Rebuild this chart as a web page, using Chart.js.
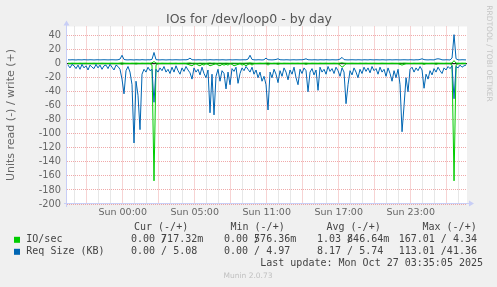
<!DOCTYPE html>
<html><head><meta charset="utf-8">
<script src="https://cdn.jsdelivr.net/npm/chart.js@4/dist/chart.umd.min.js"></script>
<style>html,body{margin:0;padding:0;background:#f0f0f0;overflow:hidden}#wrap{position:relative;width:497px;height:287px}canvas{display:block}</style>
</head><body><div id="wrap"><canvas id="c" width="497" height="287"></canvas></div>
<script>
const TITLE = 'IOs for /dev/loop0 - by day';
const Y_TITLE = 'Units read (-) / write (+)';
const SIDE_TEXT = 'RRDTOOL / TOBI OETIKER';
const FOOTER = 'Munin 2.0.73';
const LAST_UPDATE = 'Last update: Mon Oct 27 03:35:05 2025';
// time axis in hours relative to "Sun 00:00"
const X_START = -4.64, X_END = 28.69, SAMPLE_HOURS = 1/6;
const X_LABEL_HOURS = [0, 6, 12, 18, 24];
const X_LABELS = ['Sun 00:00', 'Sun 05:00', 'Sun 11:00', 'Sun 17:00', 'Sun 23:00'];
const Y_MIN = -200, Y_MAX = 53;

const SERIES_NAMES = ['IO/sec', 'Req Size (KB)'];
const SERIES_COLORS = ['#00cc00', '#0066b3'];
const LEGEND_HEADERS = ['Cur (-/+)', 'Min (-/+)', 'Avg (-/+)', 'Max (-/+)'];
const IO_STATS = [['0.00 /', '717.32m'], ['0.00 /', '576.36m'], ['1.03 /', '846.64m'], ['167.01 / 4.34', '']];
const REQ_STATS = [['0.00 / 5.08', ''], ['0.00 / 4.97', ''], ['8.17 / 5.74', ''], ['113.01 /41.36', '']];

const REQ_READ = [
-2,-6,-1,-3,-7,-2,-8,-1,-6,-3,-9,-2,-5,-7,-1,-6,-2,-8,-3,-2,
-7,-1,-5,-9,-2,-4,-8,-22,-43,-10,-4,-12,-30,-113,-25,-45,-94,-15,-8,-12,
-5,-10,-8,-55,-8,-12,-6,-10,-4,-12,-8,-14,-5,-12,-3,-10,-15,-6,-11,-4,
-9,-13,-22,-6,-12,-8,-16,-5,-14,-20,-9,-70,-15,-73,-18,-8,-25,-10,-14,-36,
-12,-30,-7,-11,-5,-28,-14,-6,-10,-4,-8,-12,-5,-15,-9,-20,-12,-25,-18,-30,
-66,-12,-20,-8,-15,-27,-10,-18,-6,-12,-23,-9,-15,-5,-20,-30,-8,-14,-6,-10,
-40,-12,-7,-16,-9,-38,-5,-12,-8,-15,-4,-11,-7,-14,-5,-10,-18,-6,-12,-57,
-30,-10,-16,-6,-12,-20,-8,-14,-5,-11,-6,-13,-4,-10,-7,-15,-5,-12,-8,-18,
-6,-14,-25,-10,-20,-8,-30,-97,-60,-20,-40,-8,-5,-12,-6,-10,-4,-9,-35,-15,
-22,-10,-16,-7,-12,-5,-10,-14,-6,-9,-4,-7,-3,-50,-4,-6,-2,-5,-3,-2];
const REQ_WRITE = [
5.5,5.4,5.6,5.5,5.3,5.6,5.5,5.4,5.7,5.5,5.4,5.6,5.5,5.3,5.5,5.6,5.4,5.5,5.6,5.5,
5.4,5.5,5.6,5.5,5.4,5.6,6.5,12.0,6.0,5.5,5.4,5.6,5.5,5.3,5.6,5.5,5.4,5.7,5.5,5.4,
5.6,5.5,6.2,16.0,5.8,5.5,5.4,5.6,5.5,5.3,5.5,5.6,5.4,5.5,5.6,5.5,5.4,5.5,5.6,5.5,
6.0,8.0,5.6,5.5,5.4,5.6,5.5,5.3,5.6,5.5,5.4,5.7,5.5,5.4,5.6,5.5,5.4,5.6,5.5,5.3,
5.5,5.6,5.4,5.5,5.6,5.5,5.4,5.5,5.6,5.5,6.5,12.0,6.0,5.5,5.4,5.6,5.5,5.3,5.6,8.0,
5.6,5.5,5.4,5.6,6.0,7.0,5.6,5.5,5.4,5.6,5.5,5.3,5.5,5.6,5.4,5.5,5.6,5.5,6.0,7.0,
5.6,5.5,5.4,5.6,5.5,5.3,5.6,5.5,5.4,5.7,5.5,5.4,5.6,5.5,5.4,5.6,6.5,9.0,5.8,5.5,
5.4,5.5,5.6,5.5,5.4,5.6,5.5,5.3,5.6,5.5,5.4,5.7,5.5,5.4,5.6,5.5,5.4,5.6,5.5,5.3,
5.5,5.6,5.4,5.5,5.6,5.5,5.4,5.5,5.6,5.5,5.4,5.6,5.5,5.3,5.6,5.5,6.0,7.0,5.8,5.5,
5.4,5.6,5.5,5.4,6.5,7.0,6.5,5.5,5.4,5.6,5.5,5.3,8.0,41.36,7.0,5.5,5.4,5.6,5.5,5.4];
const IO_READ = [
0,0,0,0,0,0,0,0,0,0,0,0,0,0,0,0,0,0,0,0,
0,0,0,0,0,0,0,-1,0,0,0,0,0,0,-0.5,0,0,0,0,0,
0,0,-2,-167,-2,0,0,0,0,0,0,0,0,0,0,0,0,0,0,0,
-1,-2,-3,-1,0,-2,-3,-1,-2,0,-1,-3,-2,-1,0,-2,-3,-1,-2,-1,
-2,0,-1,-3,-2,-1,0,-2,-1,-3,-1,0,-2,0,0,0,0,0,0,0,
-2,0,0,0,0,-1,0,0,0,0,0,0,0,0,0,0,0,0,0,-1,
0,0,0,0,0,0,0,0,0,0,0,0,0,0,0,0,-2,-5,-3,0,
0,0,0,0,0,0,0,0,0,0,0,0,0,0,0,0,0,0,0,0,
0,0,0,0,0,0,-1,-2,-1,0,0,0,0,0,0,0,0,0,-1,0,
0,0,0,0,-1,0,0,0,0,0,0,0,-2,-167,-2,0,0,0,0,0];
const IO_WRITE = [
0.7,0.6,0.8,0.7,0.7,0.6,0.8,0.7,0.7,0.8,0.6,0.7,0.7,0.8,0.7,0.6,0.7,0.8,0.7,0.7,
0.6,0.7,0.8,0.7,0.7,0.6,0.9,1.2,0.8,0.7,0.7,0.6,0.8,0.7,0.9,0.7,0.6,0.8,0.7,0.7,
0.8,0.7,1.2,3.0,0.9,0.7,0.6,0.8,0.7,0.7,0.6,0.8,0.7,0.7,0.8,0.6,0.7,0.7,0.8,0.7,
0.9,1.1,0.7,0.8,0.7,0.6,0.8,0.7,0.7,0.6,0.8,1.0,0.7,0.9,0.7,0.6,0.8,0.7,0.7,0.8,
0.7,0.6,0.8,0.7,0.7,0.6,0.8,0.7,0.7,0.8,0.9,1.2,0.8,0.7,0.6,0.7,0.8,0.7,0.7,0.9,
1.0,0.7,0.6,0.8,0.7,0.9,0.7,0.6,0.8,0.7,0.7,0.6,0.8,0.7,0.7,0.8,0.6,0.7,0.8,0.9,
0.7,0.6,0.8,0.7,0.7,0.6,0.8,0.7,0.7,0.8,0.6,0.7,0.7,0.8,0.7,0.6,0.9,1.3,0.8,0.7,
0.6,0.7,0.8,0.7,0.7,0.6,0.8,0.7,0.7,0.8,0.6,0.7,0.7,0.8,0.7,0.6,0.7,0.8,0.7,0.7,
0.6,0.7,0.8,0.7,0.7,0.6,0.8,0.7,0.9,0.8,0.7,0.7,0.6,0.8,0.7,0.7,0.8,0.9,0.7,0.7,
0.6,0.7,0.8,0.7,0.9,0.8,0.7,0.7,0.6,0.8,0.7,0.7,1.0,4.34,0.9,0.7,0.6,0.8,0.7,0.72];

// sample times (10-minute samples, centred in each slot)
const TIMES = REQ_READ.map((_, i) => X_START + (i + 0.5) * SAMPLE_HOURS);
const pts = arr => arr.map((v, i) => ({x: TIMES[i], y: v}));

const MAJOR = 'rgba(235,140,140,0.75)';
const MINOR = 'rgba(200,200,200,0.85)';
const AXIS = '#c8cef6';
const SANS = 'DejaVu Sans';
const MONO = 'DejaVu Sans Mono';

const deco = {
  id: 'deco',
  beforeDraw(chart) {
    const {ctx, chartArea: a} = chart;
    ctx.save();
    ctx.fillStyle = '#f0f0f0';
    ctx.fillRect(0, 0, chart.width, chart.height);
    ctx.fillStyle = '#ffffff';
    ctx.fillRect(a.left, a.top, a.right - a.left, a.bottom - a.top);
    ctx.restore();
  },
  afterDraw(chart) {
    const {ctx, chartArea: a} = chart;
    ctx.save();
    // axes
    ctx.strokeStyle = AXIS; ctx.fillStyle = AXIS; ctx.lineWidth = 1;
    ctx.beginPath();
    ctx.moveTo(a.left - 0.5, a.bottom + 3); ctx.lineTo(a.left - 0.5, a.top - 2);
    ctx.moveTo(a.left - 3, a.bottom - 0.5); ctx.lineTo(a.right + 4, a.bottom - 0.5);
    ctx.stroke();
    ctx.beginPath();
    ctx.moveTo(a.left - 3.5, a.top - 1); ctx.lineTo(a.left + 2.5, a.top - 1); ctx.lineTo(a.left - 0.5, a.top - 6); ctx.closePath(); ctx.fill();
    ctx.beginPath();
    ctx.moveTo(a.right + 2, a.bottom - 3.5); ctx.lineTo(a.right + 2, a.bottom + 2.5); ctx.lineTo(a.right + 7, a.bottom - 0.5); ctx.closePath(); ctx.fill();

    // title
    ctx.fillStyle = '#555';
    ctx.font = '12.5px "' + SANS + '"';
    ctx.textAlign = 'center'; ctx.textBaseline = 'middle';
    ctx.fillText(TITLE, 249, 19.5);

    // y title
    ctx.save();
    ctx.translate(11, 115); ctx.rotate(-Math.PI / 2);
    ctx.font = '11px "' + SANS + '"';
    ctx.fillStyle = '#666';
    ctx.fillText(Y_TITLE, 0, 0);
    ctx.restore();

    // side text
    ctx.save();
    ctx.translate(489, 53.5); ctx.rotate(Math.PI / 2);
    ctx.font = '7.5px "' + SANS + '"';
    ctx.fillStyle = '#c4c4c4';
    ctx.fillText(SIDE_TEXT, 0, 0);
    ctx.restore();

    // legend
    ctx.textAlign = 'left';
    ctx.font = '10px "' + MONO + '"';
    ctx.fillStyle = '#444';
    const hx = [134, 230.5, 326.5, 422.5];
    LEGEND_HEADERS.forEach((h, k) => ctx.fillText(h, hx[k], 227.5));
    const vx = [131, 224, 317, 398.7];
    const cw = ctx.measureText('0').width;
    [[IO_STATS, 239.8], [REQ_STATS, 251.8]].forEach(([stats, y], r) => {
      ctx.fillStyle = SERIES_COLORS[r];
      ctx.fillRect(14, y - 3, 6, 6);
      ctx.fillStyle = '#444';
      ctx.fillText(SERIES_NAMES[r], 26.3, y);
      stats.forEach((s, k) => {
        ctx.fillText(s[0], vx[k], y);
        if (s[1]) ctx.fillText(s[1], vx[k] + 5 * cw, y);
      });
    });
    ctx.textAlign = 'right';
    ctx.fillText(LAST_UPDATE, 483, 263.5);

    ctx.textAlign = 'center';
    ctx.font = '7.5px "' + SANS + '"';
    ctx.fillStyle = '#c0c0c0';
    ctx.fillText(FOOTER, 248, 276);
    ctx.restore();
  }
};

new Chart(document.getElementById('c'), {
  type: 'line',
  data: {
    datasets: [
      {data: pts(REQ_READ), borderColor: SERIES_COLORS[1]},
      {data: pts(REQ_WRITE), borderColor: SERIES_COLORS[1]},
      {data: pts(IO_READ), borderColor: SERIES_COLORS[0]},
      {data: pts(IO_WRITE), borderColor: SERIES_COLORS[0]},
      {data: [{x: X_START, y: 0}, {x: X_END, y: 0}], borderColor: '#000000'}
    ]
  },
  options: {
    responsive: false, animation: false, devicePixelRatio: 1,
    layout: {padding: {top: 26.5, right: 30, left: 0, bottom: 0}},
    plugins: {legend: {display: false}, title: {display: false}, tooltip: {enabled: false}},
    elements: {point: {radius: 0, hoverRadius: 0}, line: {borderWidth: 1, tension: 0, fill: false}},
    scales: {
      x: {
        type: 'linear', min: X_START, max: X_END,
        afterFit(s) { s.height = 83; },
        afterBuildTicks(s) {
          const t = [];
          for (let h = Math.ceil(X_START); h <= Math.floor(X_END); h++) t.push({value: h});
          s.ticks = t;
        },
        ticks: {
          autoSkip: false, maxRotation: 0, minRotation: 0, padding: 3,
          color: '#666', font: {family: SANS, size: 9.5},
          callback: v => { const k = X_LABEL_HOURS.indexOf(v); return k >= 0 ? X_LABELS[k] : ''; }
        },
        grid: {color: c => (c.tick && c.tick.value % 3 === 0) ? MAJOR : MINOR, drawTicks: false, lineWidth: 1},
        border: {display: false, dash: [1, 1]}
      },
      y: {
        min: Y_MIN, max: Y_MAX,
        afterFit(s) { s.width = 67; },
        afterBuildTicks(s) {
          const t = [];
          for (let v = Y_MIN; v <= Y_MAX; v += 10) t.push({value: v});
          s.ticks = t;
        },
        ticks: {
          padding: 6, color: '#666', font: {family: SANS, size: 9.8},
          callback: v => (v % 20 === 0 ? String(v) : '')
        },
        grid: {color: c => (c.tick && c.tick.value % 20 === 0) ? MAJOR : MINOR, drawTicks: false, lineWidth: 1},
        border: {display: false, dash: [1, 1]}
      }
    }
  },
  plugins: [deco]
});
</script>
</body></html>
